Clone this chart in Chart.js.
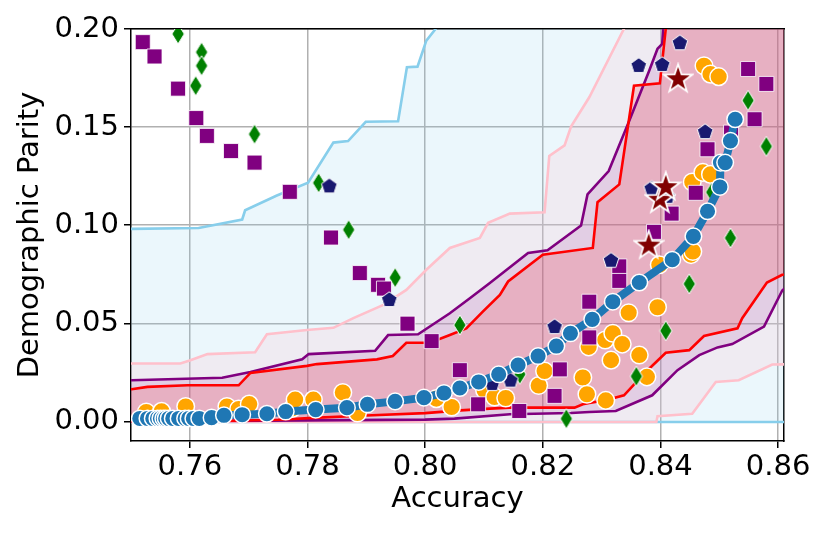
<!DOCTYPE html>
<html>
<head>
<meta charset="utf-8">
<script src="https://cdn.jsdelivr.net/npm/chart.js@4/dist/chart.umd.min.js"></script>
<style>
  body { margin: 0; background: #fff; }
</style>
</head>
<body>
<canvas id="myChart" width="830" height="534"></canvas>
<script>
// tick values
var xTicks = [0.76, 0.78, 0.80, 0.82, 0.84, 0.86];
var yTicks = [0.00, 0.05, 0.10, 0.15, 0.20];

// bands (upper / lower edges), points past the frame only close the fill
var skyUpperX = [0.74, 0.7501, 0.7615, 0.7689, 0.7694, 0.7748, 0.7801, 0.7844, 0.7869, 0.7899, 0.7954, 0.7969, 0.7987, 0.8002, 0.8018, 0.805, 0.87];
var skyUpperY = [0.098, 0.0981, 0.0986, 0.1029, 0.1076, 0.1151, 0.1216, 0.1421, 0.1429, 0.1527, 0.1530, 0.1805, 0.1808, 0.1941, 0.2001, 0.25, 0.25];
var skyLowerX = [0.74, 0.87];
var skyLowerY = [-0.0003, -0.0003];

var pinkUpperX = [0.74, 0.7501, 0.7584, 0.7601, 0.7630, 0.7711, 0.7731, 0.7799, 0.7844, 0.7878, 0.7929, 0.7968, 0.8002, 0.8042, 0.8093, 0.8107, 0.8144, 0.8203, 0.8211, 0.8237, 0.8248, 0.8279, 0.8338, 0.84, 0.87];
var pinkUpperY = [0.0295, 0.0295, 0.0295, 0.0312, 0.0343, 0.0352, 0.0444, 0.0466, 0.0477, 0.0526, 0.0594, 0.067, 0.0773, 0.0884, 0.0935, 0.1012, 0.1059, 0.1066, 0.1353, 0.1407, 0.1503, 0.1652, 0.2001, 0.25, 0.25];
var pinkLowerX = [0.74, 0.8393, 0.8395, 0.8454, 0.8494, 0.8533, 0.859, 0.87];
var pinkLowerY = [-0.0003, -0.0003, 0.0026, 0.0039, 0.0201, 0.021, 0.029, 0.0292];

var purpleUpperX = [0.74, 0.7501, 0.7655, 0.7703, 0.7791, 0.7802, 0.7915, 0.7937, 0.7988, 0.8042, 0.8076, 0.811, 0.8175, 0.8208, 0.8234, 0.8265, 0.8276, 0.8312, 0.8347, 0.8381, 0.8395, 0.8403, 0.8415, 0.87];
var purpleUpperY = [0.021, 0.021, 0.0222, 0.0252, 0.0317, 0.0343, 0.036, 0.044, 0.0444, 0.0551, 0.0628, 0.0705, 0.0858, 0.0872, 0.093, 0.0998, 0.1157, 0.1276, 0.1532, 0.1788, 0.1899, 0.1924, 0.25, 0.25];
var purpleLowerX = [0.74, 0.78, 0.80, 0.805, 0.8144, 0.8248, 0.8279, 0.8324, 0.8386, 0.8429, 0.8466, 0.8497, 0.8522, 0.8576, 0.8607, 0.87];
var purpleLowerY = [-0.0002, 0.0005, 0.0009, 0.0014, 0.0036, 0.0043, 0.0048, 0.0053, 0.0133, 0.0261, 0.0338, 0.0377, 0.0394, 0.0483, 0.0667, 0.09];

var redUpperX = [0.74, 0.7501, 0.7528, 0.7596, 0.7683, 0.7703, 0.7799, 0.7816, 0.7918, 0.7945, 0.7968, 0.8008, 0.8042, 0.807, 0.8098, 0.8127, 0.8141, 0.82, 0.8285, 0.8293, 0.833, 0.8355, 0.8399, 0.8409, 0.845, 0.87];
var redUpperY = [0.0164, 0.0164, 0.0176, 0.0184, 0.0184, 0.0247, 0.0283, 0.0292, 0.0316, 0.0333, 0.0401, 0.0401, 0.044, 0.0474, 0.0559, 0.0645, 0.0713, 0.085, 0.0884, 0.1117, 0.1208, 0.1711, 0.1723, 0.2001, 0.25, 0.25];
var redLowerX = [0.74, 0.767, 0.775, 0.781, 0.79, 0.80, 0.806, 0.811, 0.8144, 0.8254, 0.8268, 0.8279, 0.8305, 0.8338, 0.8375, 0.8409, 0.8449, 0.8474, 0.8531, 0.8539, 0.8581, 0.8607, 0.87];
var redLowerY = [0.0, 0.0003, 0.0008, 0.0018, 0.003, 0.0042, 0.0056, 0.0065, 0.007, 0.007, 0.0087, 0.0094, 0.0107, 0.0133, 0.0252, 0.035, 0.0363, 0.0435, 0.0474, 0.0526, 0.0708, 0.0747, 0.08];

// pareto front (blue)
var frontX = [0.7515, 0.7528, 0.7537, 0.7545, 0.7550, 0.7555, 0.7559, 0.7564, 0.7571, 0.7581, 0.7592, 0.7598, 0.7606, 0.7616, 0.7637, 0.7658, 0.7689, 0.7731, 0.7763, 0.7814, 0.7867, 0.7902, 0.7949, 0.7998, 0.8032, 0.8059, 0.8091, 0.8125, 0.8158, 0.8192, 0.8223, 0.8247, 0.8284, 0.8319, 0.8364, 0.8420, 0.8456, 0.8480, 0.8501, 0.8502, 0.8510, 0.8519, 0.8527];
var frontY = [0.0015, 0.0015, 0.0015, 0.0015, 0.0015, 0.0015, 0.0015, 0.0015, 0.0015, 0.0015, 0.0015, 0.0015, 0.0015, 0.0015, 0.0019, 0.0031, 0.0034, 0.0039, 0.005, 0.006, 0.007, 0.0087, 0.0102, 0.0121, 0.0145, 0.017, 0.0201, 0.024, 0.0287, 0.0333, 0.0384, 0.0449, 0.052, 0.061, 0.0708, 0.0824, 0.0943, 0.1071, 0.1195, 0.1319, 0.1319, 0.143, 0.154];

// orange circles
var orangeX = [0.7526, 0.7552, 0.7593, 0.7663, 0.7683, 0.7701, 0.7774, 0.7779, 0.781, 0.786, 0.7885, 0.8019, 0.8045, 0.8101, 0.8118, 0.8137, 0.8193, 0.8203, 0.8268, 0.8275, 0.8307, 0.8278, 0.8306, 0.8319, 0.8335, 0.8316, 0.8364, 0.8377, 0.8346, 0.8395, 0.8398, 0.8452, 0.8455, 0.8454, 0.8472, 0.8485, 0.8474, 0.8485, 0.8499];
var orangeY = [0.0048, 0.0051, 0.0076, 0.0076, 0.0063, 0.0088, 0.0066, 0.0111, 0.0111, 0.0147, 0.0043, 0.0116, 0.0073, 0.0159, 0.0124, 0.0119, 0.0183, 0.0257, 0.0224, 0.0138, 0.0107, 0.038, 0.0415, 0.0449, 0.0394, 0.0312, 0.0338, 0.0227, 0.0554, 0.0582, 0.0798, 0.085, 0.0866, 0.122, 0.1269, 0.1259, 0.1813, 0.177, 0.1757];

// purple squares
var squareX = [0.752, 0.754, 0.758, 0.7611, 0.7629, 0.767, 0.771, 0.777, 0.784, 0.7889, 0.792, 0.793, 0.797, 0.8011, 0.8059, 0.809, 0.816, 0.822, 0.8229, 0.8279, 0.8279, 0.833, 0.833, 0.8389, 0.8419, 0.846, 0.848, 0.852, 0.8549, 0.858, 0.856];
var squareY = [0.1933, 0.186, 0.1696, 0.1546, 0.1455, 0.1378, 0.1319, 0.117, 0.0937, 0.0756, 0.0696, 0.0677, 0.0498, 0.0409, 0.0261, 0.0087, 0.0053, 0.013, 0.0265, 0.0428, 0.061, 0.079, 0.0716, 0.0966, 0.1059, 0.1165, 0.1387, 0.1472, 0.1796, 0.172, 0.154];

// green diamonds
var diamondX = [0.758, 0.762, 0.762, 0.761, 0.771, 0.7819, 0.787, 0.7949, 0.8059, 0.8161, 0.824, 0.8359, 0.8409, 0.8449, 0.8519, 0.8487, 0.8549, 0.858];
var diamondY = [0.1975, 0.1882, 0.1813, 0.1711, 0.1464, 0.1216, 0.0977, 0.0733, 0.0491, 0.024, 0.0014, 0.023, 0.0462, 0.0701, 0.0935, 0.1168, 0.1636, 0.1402];

// navy pentagons
var pentaX = [0.7837, 0.7939, 0.8114, 0.8145, 0.822, 0.8316, 0.8385, 0.8412, 0.8363, 0.8403, 0.8433, 0.8476];
var pentaY = [0.1203, 0.0624, 0.0196, 0.0213, 0.0486, 0.0824, 0.1191, 0.115, 0.1817, 0.1822, 0.1933, 0.148];

// maroon stars
var starX = [0.838, 0.8399, 0.8409, 0.843];
var starY = [0.0901, 0.1135, 0.1199, 0.1749];

function pts(xs, ys) {
    return xs.map(function (x, i) { return {x: x, y: ys[i]}; });
}

function marker(size, draw) {
    var c = document.createElement('canvas');
    c.width = size;
    c.height = size;
    draw(c.getContext('2d'), size / 2);
    return c;
}

var pentagon = marker(22, function (g, c) {
    g.beginPath();
    for (var i = 0; i < 5; i++) {
        var a = -Math.PI / 2 + i * 2 * Math.PI / 5;
        g.lineTo(c + 8.2 * Math.cos(a), c + 1 + 8.2 * Math.sin(a));
    }
    g.closePath();
    g.fillStyle = '#191970';
    g.fill();
    g.strokeStyle = '#fff';
    g.lineWidth = 1;
    g.stroke();
});

var star = marker(32, function (g, c) {
    g.beginPath();
    for (var i = 0; i < 10; i++) {
        var r = i % 2 ? 4.8 : 12.2;
        var a = -Math.PI / 2 + i * Math.PI / 5;
        g.lineTo(c + r * Math.cos(a), c + 1 + r * Math.sin(a));
    }
    g.closePath();
    g.strokeStyle = '#fff';
    g.lineWidth = 3.5;
    g.lineJoin = 'miter';
    g.stroke();
    g.fillStyle = '#800000';
    g.fill();
});

var diamond = marker(24, function (g, c) {
    g.beginPath();
    g.moveTo(c, c - 10);
    g.lineTo(c + 6.2, c);
    g.lineTo(c, c + 10);
    g.lineTo(c - 6.2, c);
    g.closePath();
    g.fillStyle = '#008000';
    g.fill();
    g.strokeStyle = '#fff';
    g.lineWidth = 1;
    g.stroke();
});

function band(xs, ys, color, fillColor, order) {
    return {
        type: 'line',
        data: pts(xs, ys),
        borderColor: color,
        backgroundColor: fillColor,
        borderWidth: 2.6,
        pointRadius: 0,
        fill: fillColor ? '+1' : false,
        order: order
    };
}

Chart.defaults.font.family = 'DejaVu Sans';
Chart.defaults.color = '#000';

var ctx = document.getElementById('myChart').getContext('2d');
var myChart = new Chart(ctx, {
    type: 'scatter',
    data: {
        datasets: [
            band(skyUpperX, skyUpperY, 'rgb(135,206,235)', 'rgba(135,206,235,0.17)', 40),
            band(skyLowerX, skyLowerY, 'rgb(135,206,235)', null, 40),
            band(pinkUpperX, pinkUpperY, 'rgb(255,192,203)', 'rgba(255,192,203,0.22)', 30),
            band(pinkLowerX, pinkLowerY, 'rgb(255,192,203)', null, 30),
            band(purpleUpperX, purpleUpperY, 'rgb(128,0,128)', 'rgba(128,0,128,0.12)', 20),
            band(purpleLowerX, purpleLowerY, 'rgb(128,0,128)', null, 20),
            band(redUpperX, redUpperY, 'rgb(255,0,0)', 'rgba(255,0,0,0.15)', 10),
            band(redLowerX, redLowerY, 'rgb(255,0,0)', null, 10),
            {
                data: pts(orangeX, orangeY),
                pointStyle: 'circle',
                pointRadius: 8.8,
                backgroundColor: '#ffa500',
                borderColor: '#fff',
                borderWidth: 1.5,
                order: 6
            },
            {
                data: pts(diamondX, diamondY),
                pointStyle: diamond,
                pointRadius: 8,
                order: 5
            },
            {
                data: pts(squareX, squareY),
                pointStyle: 'rect',
                pointRadius: 10.6,
                backgroundColor: '#800080',
                borderColor: 'rgba(255,255,255,0.8)',
                borderWidth: 1,
                order: 4
            },
            {
                data: pts(pentaX, pentaY),
                pointStyle: pentagon,
                pointRadius: 8,
                order: 3
            },
            {
                data: pts(starX, starY),
                pointStyle: star,
                pointRadius: 12,
                order: 2
            },
            {
                type: 'line',
                data: pts(frontX, frontY),
                borderColor: '#1f77b4',
                borderWidth: 8,
                backgroundColor: '#1f77b4',
                pointStyle: 'circle',
                pointRadius: 8.3,
                pointBackgroundColor: '#1f77b4',
                pointBorderColor: '#fff',
                pointBorderWidth: 1.5,
                fill: false,
                order: 1
            }
        ]
    },
    options: {
        responsive: false,
        devicePixelRatio: 1,
        animation: false,
        events: [],
        layout: { padding: { top: 29, right: 46, left: 0, bottom: 0 } },
        plugins: {
            legend: { display: false },
            tooltip: { enabled: false },
            filler: { drawTime: 'beforeDatasetsDraw' }
        },
        scales: {
            x: {
                type: 'linear',
                position: 'bottom',
                min: 0.75,
                max: 0.861,
                afterBuildTicks: function (s) { s.ticks = xTicks.map(function (v) { return {value: v}; }); },
                afterFit: function (s) { s.height = 93; },
                ticks: {
                    font: { size: 29 },
                    padding: 2,
                    maxRotation: 0,
                    callback: function (v) { return v.toFixed(2); }
                },
                grid: { color: '#b0b0b0', lineWidth: 1.5, tickColor: '#000', tickLength: 7, tickWidth: 1.5 },
                border: { color: '#000', width: 1.5 },
                title: { display: true, text: 'Accuracy', font: { size: 29 }, padding: { top: 0, bottom: 17 } }
            },
            y: {
                type: 'linear',
                position: 'left',
                min: -0.01,
                max: 0.2,
                afterBuildTicks: function (s) { s.ticks = yTicks.map(function (v) { return {value: v}; }); },
                afterFit: function (s) { s.width = 131; },
                ticks: {
                    font: { size: 29 },
                    padding: 5,
                    callback: function (v) { return v.toFixed(2); }
                },
                grid: { color: '#b0b0b0', lineWidth: 1.5, tickColor: '#000', tickLength: 7, tickWidth: 1.5 },
                border: { color: '#000', width: 1.5 },
                title: { display: true, text: 'Demographic Parity', font: { size: 29 }, padding: { top: 13, bottom: 0 } }
            },
            xTop: {
                type: 'linear',
                position: 'top',
                min: 0.75,
                max: 0.861,
                afterFit: function (s) { s.height = 0; },
                ticks: { display: false },
                grid: { display: false },
                border: { color: '#000', width: 1.5 }
            },
            yRight: {
                type: 'linear',
                position: 'right',
                min: -0.01,
                max: 0.2,
                afterFit: function (s) { s.width = 0; },
                ticks: { display: false },
                grid: { display: false },
                border: { color: '#000', width: 1.5 }
            }
        }
    }
});
</script>
</body>
</html>
